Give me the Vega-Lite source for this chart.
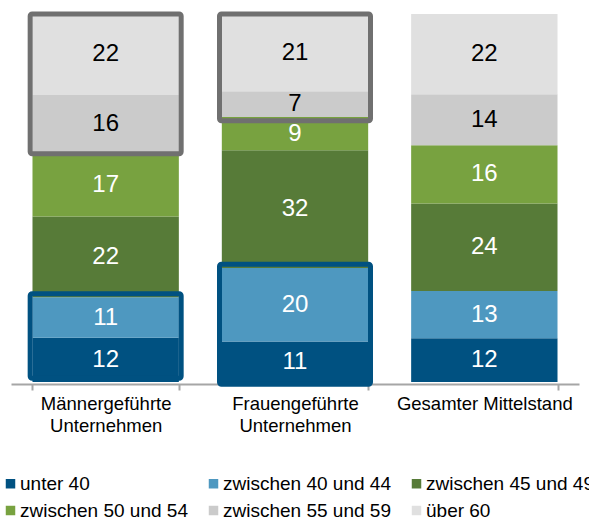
{
  "$schema": "https://vega.github.io/schema/vega-lite/v6.json",
  "width": 568,
  "height": 368,
  "autosize": {"type": "none"},
  "padding": {"left": 11, "top": 14, "right": 10, "bottom": 138},
  "config": {"view": {"stroke": null}, "font": "Liberation Sans"},
  "datasets": {
    "main": [
      {"cat": "Männergeführte Unternehmen", "group": "unter 40", "v": 12, "o": 1},
      {"cat": "Männergeführte Unternehmen", "group": "zwischen 40 und 44", "v": 11, "o": 2},
      {"cat": "Männergeführte Unternehmen", "group": "zwischen 45 und 49", "v": 22, "o": 3},
      {"cat": "Männergeführte Unternehmen", "group": "zwischen 50 und 54", "v": 17, "o": 4},
      {"cat": "Männergeführte Unternehmen", "group": "zwischen 55 und 59", "v": 16, "o": 5},
      {"cat": "Männergeführte Unternehmen", "group": "über 60", "v": 22, "o": 6},
      {"cat": "Frauengeführte Unternehmen", "group": "unter 40", "v": 11, "o": 1},
      {"cat": "Frauengeführte Unternehmen", "group": "zwischen 40 und 44", "v": 20, "o": 2},
      {"cat": "Frauengeführte Unternehmen", "group": "zwischen 45 und 49", "v": 32, "o": 3},
      {"cat": "Frauengeführte Unternehmen", "group": "zwischen 50 und 54", "v": 9, "o": 4},
      {"cat": "Frauengeführte Unternehmen", "group": "zwischen 55 und 59", "v": 7, "o": 5},
      {"cat": "Frauengeführte Unternehmen", "group": "über 60", "v": 21, "o": 6},
      {"cat": "Gesamter Mittelstand", "group": "unter 40", "v": 12, "o": 1},
      {"cat": "Gesamter Mittelstand", "group": "zwischen 40 und 44", "v": 13, "o": 2},
      {"cat": "Gesamter Mittelstand", "group": "zwischen 45 und 49", "v": 24, "o": 3},
      {"cat": "Gesamter Mittelstand", "group": "zwischen 50 und 54", "v": 16, "o": 4},
      {"cat": "Gesamter Mittelstand", "group": "zwischen 55 und 59", "v": 14, "o": 5},
      {"cat": "Gesamter Mittelstand", "group": "über 60", "v": 22, "o": 6}
    ],
    "boxes": [
      {"cat": "Männergeführte Unternehmen", "kind": "low", "lo": 0.01, "hi": 0.24},
      {"cat": "Männergeführte Unternehmen", "kind": "high", "lo": 0.62, "hi": 1},
      {"cat": "Frauengeführte Unternehmen", "kind": "low", "lo": -0.006, "hi": 0.32},
      {"cat": "Frauengeführte Unternehmen", "kind": "high", "lo": 0.71, "hi": 1}
    ]
  },
  "encoding": {
    "x": {
      "field": "cat",
      "type": "nominal",
      "sort": ["Männergeführte Unternehmen", "Frauengeführte Unternehmen", "Gesamter Mittelstand"],
      "scale": {"paddingInner": 0.227, "paddingOuter": 0.1135},
      "axis": {
        "title": null,
        "labelAngle": 0,
        "domainColor": "#a6a6a6",
        "domainWidth": 2,
        "tickColor": "#a6a6a6",
        "tickWidth": 2,
        "tickSize": 6,
        "tickBand": "extent",
        "labelFontSize": 18.5,
        "labelColor": "#000000",
        "labelFont": "Liberation Sans",
        "labelPadding": 4,
        "labelLineHeight": 22,
        "labelLimit": 300,
        "offset": 2,
        "labelExpr": "datum.label == 'Gesamter Mittelstand' ? datum.label : split(datum.label, ' ')"
      }
    }
  },
  "layer": [
    {
      "data": {"name": "main"},
      "mark": {"type": "bar"},
      "encoding": {
        "y": {"field": "v", "type": "quantitative", "stack": "normalize", "scale": {"domain": [0, 1]}, "axis": null},
        "color": {
          "field": "group",
          "type": "nominal",
          "scale": {
            "domain": ["unter 40", "zwischen 40 und 44", "zwischen 45 und 49", "zwischen 50 und 54", "zwischen 55 und 59", "über 60"],
            "range": ["#005181", "#4e98c0", "#577b38", "#78a240", "#cbcbcb", "#e0e0e0"]
          },
          "legend": {
            "title": null,
            "orient": "none",
            "legendX": -10,
            "legendY": 460,
            "direction": "horizontal",
            "columns": 3,
            "symbolType": "square",
            "symbolSize": 90,
            "symbolStrokeWidth": 0,
            "labelFontSize": 19,
            "labelColor": "#000000",
            "labelFont": "Liberation Sans",
            "labelOffset": 0,
            "columnPadding": 16,
            "rowPadding": 7,
            "labelLimit": 300
          }
        },
        "order": {"field": "o", "type": "quantitative"}
      }
    },
    {
      "data": {"name": "main"},
      "transform": [
        {"stack": "v", "groupby": ["cat"], "sort": [{"field": "o"}], "offset": "normalize", "as": ["y0", "y1"]},
        {"calculate": "(datum.y0 + datum.y1) / 2", "as": "ym"}
      ],
      "mark": {"type": "text", "fontSize": 24, "font": "Liberation Sans", "baseline": "middle"},
      "encoding": {
        "y": {"field": "ym", "type": "quantitative", "scale": {"domain": [0, 1]}, "axis": null},
        "text": {"field": "v", "type": "quantitative"},
        "color": {"condition": {"test": "datum.o > 4", "value": "#000000"}, "value": "#ffffff"}
      }
    },
    {
      "data": {"name": "boxes"},
      "mark": {"type": "bar", "width": 151, "filled": false, "strokeWidth": 5, "cornerRadius": 2},
      "encoding": {
        "y": {"field": "lo", "type": "quantitative", "scale": {"domain": [0, 1]}, "axis": null},
        "y2": {"field": "hi"},
        "stroke": {"condition": {"test": "datum.kind == 'high'", "value": "#707070"}, "value": "#005181"}
      }
    }
  ]
}
